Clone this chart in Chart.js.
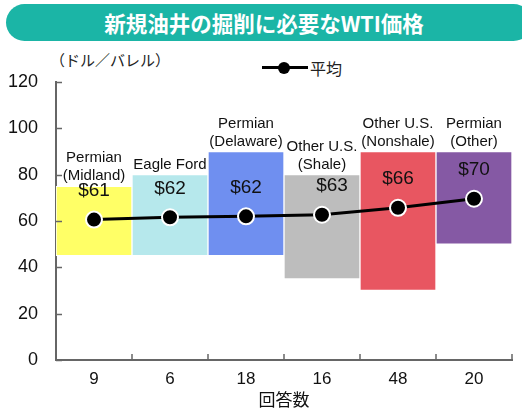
<!DOCTYPE html>
<html>
<head>
<meta charset="utf-8">
<script src="https://cdn.jsdelivr.net/npm/chart.js@4"></script>
<style>
  body { margin: 0; background: #fff; }
  #wrap { position: relative; width: 522px; height: 414px; font-family: "Liberation Sans", "Noto Sans CJK JP", sans-serif; }
  #banner { position: absolute; left: 6px; top: 4px; width: 526px; height: 37px; border-radius: 19px;
    background: #1bb5a6; color: #fff; font: bold 21.5px "Noto Sans CJK JP", sans-serif; line-height: 37px; }
  #banner span { position: absolute; left: 0; width: 516px; text-align: center; }
  #unit { position: absolute; left: 50px; top: 49px; font: 15px "Noto Sans CJK JP", sans-serif; color: #222; }
  #legend { position: absolute; left: 262px; top: 56px; font: 16px "Noto Sans CJK JP", sans-serif; color: #222; display: flex; align-items: center; }
  #legend .mark { position: relative; width: 46px; height: 16px; margin-right: 2px; }
  #legend .mark i { position: absolute; left: 0; top: 6px; width: 46px; height: 3px; background: #000; }
  #legend .mark b { position: absolute; left: 16px; top: 2px; width: 12px; height: 12px; border-radius: 50%; background: #000; }
  canvas { position: absolute; left: 0; top: 0; }
</style>
</head>
<body>
<div id="wrap">
  <div id="banner"><span>新規油井の掘削に必要なWTI価格</span></div>
  <div id="unit">（ドル／バレル）</div>
  <div id="legend"><span class="mark"><i></i><b></b></span>平均</div>
  <canvas id="wtiChart" width="522" height="414"></canvas>
</div>
<script>
const responses = ['9', '6', '18', '16', '48', '20'];
const basins = [['Permian', '(Midland)'], ['Eagle Ford'], ['Permian', '(Delaware)'], ['Other U.S.', '(Shale)'], ['Other U.S.', '(Nonshale)'], ['Permian', '(Other)']];
const lows = [45, 45, 45, 35, 30, 50];
const highs = [75, 80, 90, 80, 90, 90];
const averages = [60.6, 61.6, 62, 62.7, 65.7, 69.6];
const avgLabels = ['$61', '$62', '$62', '$63', '$66', '$70'];
const barColors = ['#ffff66', '#b6e8ec', '#6f8ff0', '#bdbdbd', '#e85661', '#8559a4'];
const yTicks = [0, 20, 40, 60, 80, 100, 120];

const axisGray = '#666';

// inward tick marks on both axes
const innerTicks = {
  id: 'innerTicks',
  afterDraw(chart) {
    const ctx = chart.ctx;
    const x = chart.scales.x, y = chart.scales.y;
    ctx.save();
    ctx.strokeStyle = axisGray;
    ctx.lineWidth = 1.5;
    yTicks.forEach(v => {
      const py = Math.round(y.getPixelForValue(v)) + 0.5;
      ctx.beginPath();
      ctx.moveTo(x.left, py);
      ctx.lineTo(x.left + 6, py);
      ctx.stroke();
    });
    for (let i = 0; i <= responses.length; i++) {
      const px = x.getPixelForTick(0) + (i - 0.5) * (x.width / responses.length);
      ctx.beginPath();
      ctx.moveTo(px, y.bottom);
      ctx.lineTo(px, y.bottom - 6);
      ctx.stroke();
    }
    ctx.restore();
  }
};

// basin names above bars and average values above points
const barLabels = {
  id: 'barLabels',
  afterDatasetsDraw(chart) {
    const ctx = chart.ctx;
    const x = chart.scales.x, y = chart.scales.y;
    ctx.save();
    ctx.fillStyle = '#111';
    ctx.textAlign = 'center';
    ctx.textBaseline = 'middle';
    basins.forEach((lines, i) => {
      const cx = x.getPixelForValue(i);
      const top = y.getPixelForValue(highs[i]);
      ctx.font = '15px "Liberation Sans", Arial, sans-serif';
      lines.forEach((t, j) => {
        ctx.fillText(t, cx, top - 10 - (lines.length - 1 - j) * 18);
      });
      ctx.font = '19px "Liberation Sans", Arial, sans-serif';
      ctx.fillText(avgLabels[i], cx + (i === 3 ? 10 : 0), y.getPixelForValue(averages[i]) - 29);
    });
    ctx.restore();
  }
};

const ctx = document.getElementById('wtiChart').getContext('2d');
new Chart(ctx, {
  data: {
    labels: responses,
    datasets: [
      {
        type: 'line',
        label: '平均',
        data: averages,
        borderColor: '#000',
        borderWidth: 3,
        pointRadius: 8,
        pointBackgroundColor: '#000',
        pointBorderColor: '#fff',
        pointBorderWidth: 2,
        order: 0
      },
      {
        type: 'bar',
        label: 'range',
        data: lows.map((lo, i) => [lo, highs[i]]),
        backgroundColor: barColors,
        borderColor: '#fff',
        borderWidth: 1,
        borderSkipped: false,
        barPercentage: 1,
        categoryPercentage: 1,
        order: 1
      }
    ]
  },
  options: {
    responsive: false,
    animation: false,
    layout: { padding: { top: 82, right: 10, left: 0, bottom: 0 } },
    plugins: { legend: { display: false }, tooltip: { enabled: false } },
    scales: {
      x: {
        grid: { display: false, drawTicks: false },
        border: { color: axisGray, width: 2 },
        ticks: { color: '#111', padding: 9, font: { size: 17, family: '"Liberation Sans", Arial, sans-serif' } },
        title: { display: true, text: '回答数', color: '#111', padding: { top: 2 }, font: { size: 17, family: '"Noto Sans CJK JP", sans-serif' } },
        afterFit(scale) { scale.height = 54; }
      },
      y: {
        min: 0,
        max: 120,
        grid: { display: false, drawTicks: false },
        border: { color: axisGray, width: 2 },
        ticks: { stepSize: 20, color: '#111', padding: 18, font: { size: 18, family: '"Liberation Sans", Arial, sans-serif' } },
        afterFit(scale) { scale.width = 56; }
      }
    }
  },
  plugins: [innerTicks, barLabels]
});
</script>
</body>
</html>
